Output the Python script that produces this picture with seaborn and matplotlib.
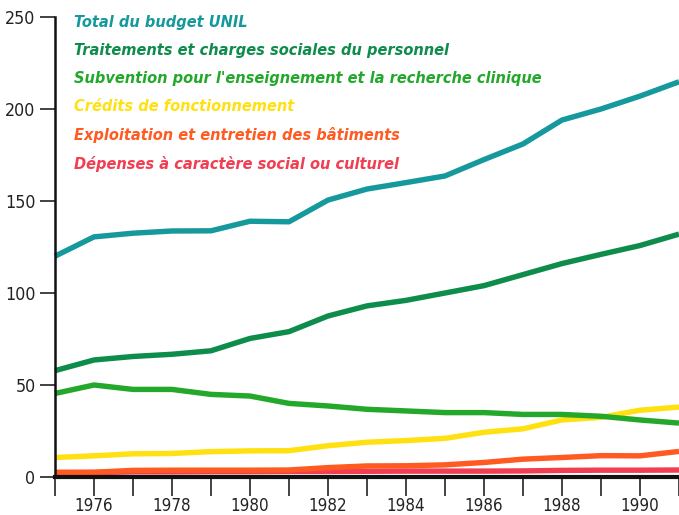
import matplotlib
matplotlib.use("Agg")
import matplotlib.pyplot as plt
from matplotlib import font_manager as fm
import seaborn as sns
import pandas as pd

years = list(range(1975, 1992))
total = [120, 130.5, 132.5, 133.7, 133.8, 139, 138.7, 150.5, 156.5, 160, 163.6, 172.5, 181, 194, 200, 207, 214.8]
traitements = [57.8, 63.6, 65.5, 66.7, 68.6, 75.3, 79, 87.5, 93, 96, 100, 104, 110, 116, 121, 125.8, 132]
subvention = [45.4, 50, 47.6, 47.6, 44.9, 44, 40, 38.6, 36.8, 35.9, 35, 35, 34, 34, 33, 31, 29.3]
credits = [10.6, 11.5, 12.6, 12.8, 13.8, 14.2, 14.3, 17, 18.9, 19.8, 21, 24.3, 26.2, 31, 32.4, 36.3, 38]
exploitation = [2.6, 2.6, 3.6, 3.7, 3.7, 3.7, 3.8, 5.1, 6, 6.1, 6.6, 7.9, 9.7, 10.6, 11.6, 11.5, 13.9]
depenses = [2.3, 2.4, 2.8, 2.8, 2.9, 2.9, 3, 3, 3.1, 3.2, 3.2, 3.2, 3.3, 3.6, 3.7, 3.7, 3.8]
x_tick_years = [1976, 1978, 1980, 1982, 1984, 1986, 1988, 1990]
y_ticks = [0, 50, 100, 150, 200, 250]

labels = [
    "Total du budget UNIL",
    "Traitements et charges sociales du personnel",
    "Subvention pour l'enseignement et la recherche clinique",
    "Crédits de fonctionnement",
    "Exploitation et entretien des bâtiments",
    "Dépenses à caractère social ou culturel",
]
colors = ["#16999c", "#0e8c4c", "#23a82c", "#ffe010", "#ff5a22", "#f23e52"]
series = [total, traitements, subvention, credits, exploitation, depenses]

rows = []
for lab, vals in zip(labels, series):
    for y, v in zip(years, vals):
        rows.append({"Année": y, "Valeur": v, "Série": lab})
df = pd.DataFrame(rows)

# pick a condensed face if one is installed
cond_family, cond_stretch, condensed = "Liberation Sans", "normal", False
for fam in ["Liberation Sans Narrow", "DejaVu Sans", "Roboto Condensed", "Open Sans Condensed", "Noto Sans"]:
    try:
        path = fm.findfont(fm.FontProperties(family=fam, stretch="condensed"), fallback_to_default=False)
        low = path.lower()
        if "narrow" in low or "condensed" in low:
            cond_family, cond_stretch, condensed = fam, "condensed", True
            break
    except Exception:
        pass

sns.set_style("white")
plt.rcParams["font.family"] = [cond_family, "Liberation Sans", "DejaVu Sans"]

fig = plt.figure(figsize=(6.79, 5.15), dpi=100)
ax = fig.add_axes([55 / 679, 38 / 515, 624 / 679, 460 / 515])

pal = dict(zip(labels, colors))
for lab in labels[::-1]:
    sns.lineplot(data=df[df["Série"] == lab], x="Année", y="Valeur", color=pal[lab],
                 linewidth=3.9, ax=ax, legend=False, solid_capstyle="butt", clip_on=False)

ax.set_xlim(1975, 1991)
ax.set_ylim(0, 250)
ax.set_xlabel("")
ax.set_ylabel("")

ax.set_xticks(x_tick_years)
ax.set_xticks(years, minor=True)
ax.set_yticks(y_ticks)

tick_fs = 12.2 if condensed else 11
ax.tick_params(axis="x", which="both", direction="out", length=13.5, width=1.2, colors="#222222",
               labelsize=tick_fs, pad=1, bottom=True)
ax.tick_params(axis="y", which="major", direction="out", length=11, width=1.2, colors="#222222",
               labelsize=tick_fs + 0.6, pad=3, left=True)
for lbl in ax.get_xticklabels() + ax.get_yticklabels():
    lbl.set_color("#222222")
    lbl.set_fontstretch(cond_stretch)

for s in ["top", "right"]:
    ax.spines[s].set_visible(False)
ax.spines["left"].set_linewidth(1.8)
ax.spines["left"].set_color("#111111")
ax.spines["bottom"].set_linewidth(3)
ax.spines["bottom"].set_color("#111111")
ax.grid(False)

leg_fs = 11.7 if condensed else 12.4
y0 = 22
for i, (lab, col) in enumerate(zip(labels, colors)):
    fig.text(74 / 679, 1 - (y0 + i * 28.3) / 515, lab, color=col, fontsize=leg_fs,
             fontstyle="italic", fontweight="bold", va="center", ha="left",
             fontstretch=cond_stretch,
             family=[cond_family, "Liberation Sans", "DejaVu Sans"])

fig.savefig("out.png", dpi=100)
